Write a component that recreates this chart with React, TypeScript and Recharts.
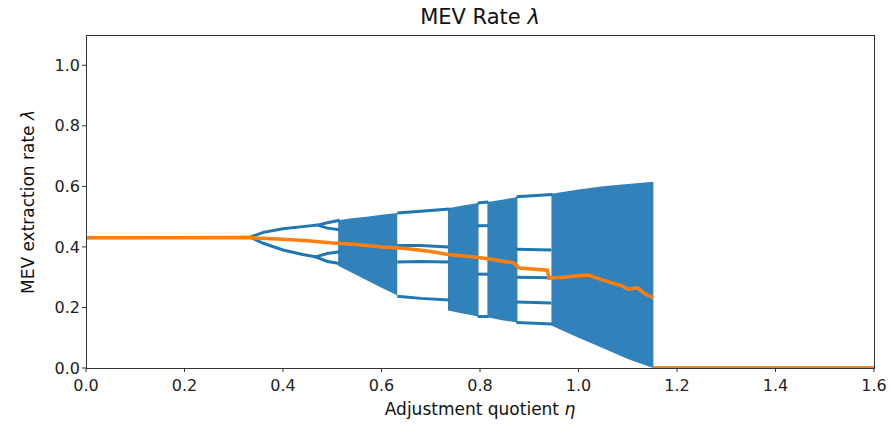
import { Area, ComposedChart, Line, XAxis, YAxis } from "recharts";

const X_TICKS = [0, 0.2, 0.4, 0.6, 0.8, 1.0, 1.2, 1.4, 1.6];
const Y_TICKS = [0, 0.2, 0.4, 0.6, 0.8, 1.0];

const BLUE = "#1f77b4";
const ORANGE = "#ff7f0e";
const FONT = "DejaVu Sans, sans-serif";

type Pt = { x: number; y: number };
type Band = { x: number; band: [number, number] };

// stable / periodic branches
const fixedBranch: Pt[] = [{ x: 0, y: 0.43 }, { x: 0.333, y: 0.432 }];
const p2Upper: Pt[] = [
  { x: 0.333, y: 0.432 }, { x: 0.36, y: 0.448 }, { x: 0.4, y: 0.46 },
  { x: 0.44, y: 0.467 }, { x: 0.47, y: 0.472 },
];
const p2Lower: Pt[] = [
  { x: 0.333, y: 0.432 }, { x: 0.36, y: 0.412 }, { x: 0.4, y: 0.39 },
  { x: 0.44, y: 0.375 }, { x: 0.468, y: 0.367 },
];
const p4UpperA: Pt[] = [{ x: 0.47, y: 0.472 }, { x: 0.49, y: 0.48 }, { x: 0.515, y: 0.488 }];
const p4UpperB: Pt[] = [{ x: 0.47, y: 0.472 }, { x: 0.49, y: 0.462 }, { x: 0.515, y: 0.457 }];
const p4LowerA: Pt[] = [{ x: 0.466, y: 0.367 }, { x: 0.49, y: 0.378 }, { x: 0.515, y: 0.384 }];
const p4LowerB: Pt[] = [{ x: 0.466, y: 0.367 }, { x: 0.49, y: 0.352 }, { x: 0.515, y: 0.345 }];

// windows inside the chaotic region
const win1Top: Pt[] = [{ x: 0.632, y: 0.512 }, { x: 0.68, y: 0.518 }, { x: 0.738, y: 0.525 }];
const win1MidA: Pt[] = [{ x: 0.632, y: 0.405 }, { x: 0.68, y: 0.405 }, { x: 0.735, y: 0.4 }];
const win1MidB: Pt[] = [{ x: 0.632, y: 0.35 }, { x: 0.68, y: 0.352 }, { x: 0.735, y: 0.35 }];
const win1Low: Pt[] = [{ x: 0.632, y: 0.237 }, { x: 0.68, y: 0.23 }, { x: 0.738, y: 0.225 }];
const win2Top: Pt[] = [{ x: 0.795, y: 0.545 }, { x: 0.817, y: 0.548 }];
const win2MidA: Pt[] = [{ x: 0.795, y: 0.47 }, { x: 0.817, y: 0.47 }];
const win2MidB: Pt[] = [{ x: 0.795, y: 0.31 }, { x: 0.817, y: 0.31 }];
const win2Low: Pt[] = [{ x: 0.795, y: 0.17 }, { x: 0.817, y: 0.17 }];
const win3A: Pt[] = [{ x: 0.874, y: 0.566 }, { x: 0.947, y: 0.573 }];
const win3B: Pt[] = [{ x: 0.874, y: 0.392 }, { x: 0.945, y: 0.39 }];
const win3C: Pt[] = [{ x: 0.874, y: 0.3 }, { x: 0.945, y: 0.298 }];
const win3D: Pt[] = [{ x: 0.874, y: 0.218 }, { x: 0.945, y: 0.215 }];
const win3E: Pt[] = [{ x: 0.874, y: 0.15 }, { x: 0.947, y: 0.145 }];
const zeroBranch: Pt[] = [{ x: 1.152, y: 0 }, { x: 1.6, y: 0 }];

const BLUE_LINES = [
  fixedBranch, p2Upper, p2Lower, p4UpperA, p4UpperB, p4LowerA, p4LowerB,
  win1Top, win1MidA, win1MidB, win1Low, win2Top, win2MidA, win2MidB, win2Low,
  win3A, win3B, win3C, win3D, win3E, zeroBranch,
];

// chaotic bands, [low, high] envelope
const chaosA: Band[] = [
  { x: 0.512, band: [0.338, 0.488] }, { x: 0.54, band: [0.315, 0.495] },
  { x: 0.57, band: [0.29, 0.5] }, { x: 0.6, band: [0.265, 0.506] },
  { x: 0.632, band: [0.24, 0.512] },
];
const chaosB: Band[] = [
  { x: 0.735, band: [0.19, 0.528] }, { x: 0.765, band: [0.18, 0.537] },
  { x: 0.797, band: [0.17, 0.545] },
];
const chaosC: Band[] = [
  { x: 0.815, band: [0.168, 0.548] }, { x: 0.845, band: [0.158, 0.556] },
  { x: 0.876, band: [0.15, 0.565] },
];
const chaosD: Band[] = [
  { x: 0.945, band: [0.14, 0.576] }, { x: 1.0, band: [0.1, 0.59] },
  { x: 1.05, band: [0.065, 0.6] }, { x: 1.1, band: [0.03, 0.608] },
  { x: 1.152, band: [0, 0.615] },
];
const CHAOS_BANDS = [chaosA, chaosB, chaosC, chaosD];

// mean extraction rate (orange)
const meanRate: Pt[] = [
  { x: 0, y: 0.43 }, { x: 0.333, y: 0.43 }, { x: 0.4, y: 0.425 },
  { x: 0.45, y: 0.42 }, { x: 0.5, y: 0.413 }, { x: 0.55, y: 0.408 },
  { x: 0.6, y: 0.4 }, { x: 0.65, y: 0.395 }, { x: 0.7, y: 0.385 },
  { x: 0.735, y: 0.375 }, { x: 0.78, y: 0.368 }, { x: 0.82, y: 0.36 },
  { x: 0.868, y: 0.347 }, { x: 0.88, y: 0.33 }, { x: 0.937, y: 0.323 },
  { x: 0.94, y: 0.297 }, { x: 0.97, y: 0.3 }, { x: 1.0, y: 0.305 },
  { x: 1.02, y: 0.307 }, { x: 1.05, y: 0.29 }, { x: 1.07, y: 0.28 },
  { x: 1.085, y: 0.274 }, { x: 1.1, y: 0.26 }, { x: 1.12, y: 0.265 },
  { x: 1.135, y: 0.245 }, { x: 1.152, y: 0.232 },
];
const meanRateZero: Pt[] = [{ x: 1.152, y: 0 }, { x: 1.6, y: 0 }];

const W = 894;
const H = 426;
const PLOT = { left: 86, top: 35, right: 874, bottom: 368 };

export default function App() {
  const tick = { fontFamily: FONT, fontSize: 16, fill: "#222" };
  return (
    <div style={{ position: "absolute", left: 0, top: 0, width: W, height: H, background: "#fff", fontFamily: FONT }}>
      <ComposedChart
        width={W}
        height={H}
        margin={{ top: PLOT.top, right: W - PLOT.right, bottom: 0, left: 0 }}
      >
        <XAxis
          type="number"
          dataKey="x"
          domain={[0, 1.6]}
          ticks={X_TICKS}
          tickFormatter={(v: number) => v.toFixed(1)}
          height={H - PLOT.bottom}
          axisLine={false}
          tickLine={{ stroke: "#333" }}
          tickSize={4}
          tickMargin={8}
          tick={tick}
          allowDataOverflow
        />
        <YAxis
          type="number"
          domain={[0, 1.1]}
          ticks={Y_TICKS}
          tickFormatter={(v: number) => v.toFixed(1)}
          width={PLOT.left}
          axisLine={false}
          tickLine={{ stroke: "#333" }}
          tickSize={4}
          tickMargin={2}
          tick={tick}
          allowDataOverflow
        />
        {CHAOS_BANDS.map((d, i) => (
          <Area
            key={`band${i}`}
            data={d}
            dataKey="band"
            type="linear"
            stroke="none"
            fill={BLUE}
            fillOpacity={0.92}
            isAnimationActive={false}
          />
        ))}
        {BLUE_LINES.map((d, i) => (
          <Line
            key={`branch${i}`}
            data={d}
            dataKey="y"
            type="linear"
            stroke={BLUE}
            strokeWidth={3}
            dot={false}
            isAnimationActive={false}
          />
        ))}
        <Line data={meanRate} dataKey="y" type="linear" stroke={ORANGE} strokeWidth={3.5} dot={false} isAnimationActive={false} />
        <Line data={meanRateZero} dataKey="y" type="linear" stroke={ORANGE} strokeWidth={3.5} dot={false} isAnimationActive={false} />
      </ComposedChart>

      {/* axes box */}
      <div
        style={{
          position: "absolute",
          left: PLOT.left,
          top: PLOT.top,
          width: PLOT.right - PLOT.left + 1,
          height: PLOT.bottom - PLOT.top + 1,
          boxSizing: "border-box",
          border: "1px solid #333",
          pointerEvents: "none",
        }}
      />
      <div style={{ position: "absolute", left: PLOT.left, width: PLOT.right - PLOT.left, top: 5, textAlign: "center", fontSize: 21, lineHeight: "24px", color: "#111" }}>
        MEV Rate <i>λ</i>
      </div>
      <div style={{ position: "absolute", left: PLOT.left, width: PLOT.right - PLOT.left, top: 398, textAlign: "center", fontSize: 17, lineHeight: "22px", color: "#111" }}>
        Adjustment quotient <i>η</i>
      </div>
      <div
        style={{
          position: "absolute",
          left: 28 - 150,
          top: (PLOT.top + PLOT.bottom) / 2 - 11,
          width: 300,
          textAlign: "center",
          fontSize: 17,
          lineHeight: "22px",
          color: "#111",
          transform: "rotate(-90deg)",
        }}
      >
        MEV extraction rate <i>λ</i>
      </div>
    </div>
  );
}
